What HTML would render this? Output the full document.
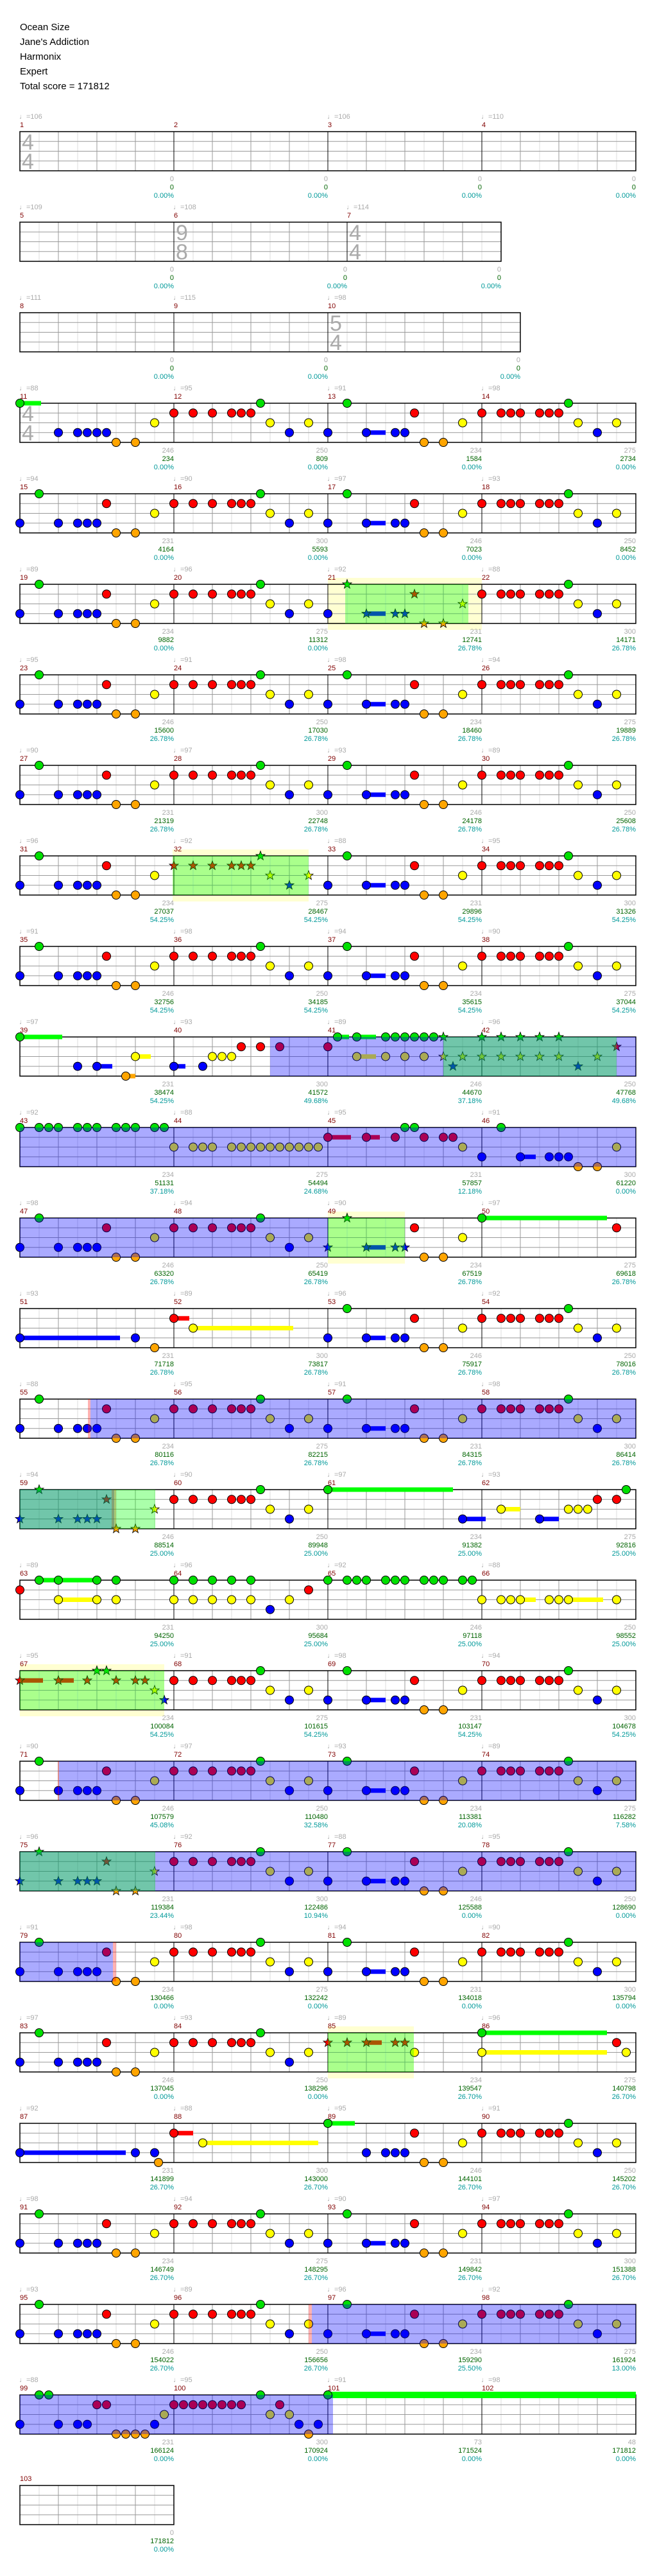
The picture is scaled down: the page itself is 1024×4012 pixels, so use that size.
<!DOCTYPE html>
<html><head><meta charset="utf-8"><style>
html,body{margin:0;padding:0;background:#fff;width:1024px;height:4012px;overflow:hidden}
svg{position:absolute;left:0;top:0}
.t{position:absolute;left:31px;font:15px "Liberation Sans",sans-serif;color:#000;line-height:23px}
</style></head><body>
<div class="t" style="top:31px">Ocean Size<br>Jane's Addiction<br>Harmonix<br>Expert<br>Total score = 171812</div>
<svg id="s" width="1024" height="4012" xmlns="http://www.w3.org/2000/svg" font-family="Liberation Sans, sans-serif"></svg>
<script>
var S=document.getElementById('s'),NS='http://www.w3.org/2000/svg';
function el(t,a,txt){var e=document.createElementNS(NS,t);for(var k in a)e.setAttribute(k,a[k]);if(txt!==undefined)e.textContent=txt;S.appendChild(e);return e;}
var L=31,BW=60,H=61,LY=[0,15.25,30.5,45.75,61];
var NC=['#00e000','#ff0000','#ffff00','#0000ff','#ffa500'];
var rows=[];
rows.push({ms:[[1,4,[4,4]],[2,4],[3,4],[4,4]],tp:[[0,106],[2,106],[3,110]]});
rows.push({ms:[[5,4],[6,4.5,[9,8]],[7,4,[4,4]]],tp:[[0,109],[1,108],[2,114]]});
rows.push({ms:[[8,4],[9,4],[10,5,[5,4]]],tp:[[0,111],[1,115],[2,98]]});
for(var r=3;r<=25;r++){var n=11+4*(r-3);var ms=[];for(var j=0;j<4;j++)ms.push([n+j,4]);if(r==3)ms[0][2]=[4,4];rows.push({ms:ms});}
rows.push({ms:[[103,4]],tp:[]});
var OV={5:[['y',511,751],['g',538,730]],8:[['y',269,481],['g',269,481]],10:[['b',421,991],['g',691,961]],11:[['b',31,991]],
12:[['y',511,631],['b',31,512],['g',511,631]],14:[['p',137,141],['b',141,991]],15:[['b',31,178],['p',174,181],['g',31,242]],
17:[['y',31,256],['g',31,256]],18:[['p',90,92],['b',92,991]],19:[['b',31,991],['g',31,242]],20:[['b',31,176],['p',176,181]],
21:[['y',511,645],['g',511,645]],24:[['p',481,486],['b',486,991]],25:[['b',31,519]]};
var A=[[0,0,0.55],[1,3],[1.5,3],[1.75,3],[2,3],[2.25,3],[2.5,4],[3,4],[3.5,2]];
var B=[[0,1],[0.5,1],[0.75,1],[1,1],[1.5,1],[1.75,1],[2,1],[2.25,0],[2.5,2],[3,3],[3.5,2]];
var C=[[0,3],[0.5,0],[1,3],[1.5,3],[1.75,3],[2,3],[2.25,1],[2.5,4],[3,4],[3.5,2]];
var A2=[[0,3],[0.5,0],[1,3,0.5],[1.75,3],[2,3],[2.25,1],[2.5,4],[3,4],[3.5,2]];
var D=[[0,1],[0.5,1],[1,1],[1.5,1],[1.75,1],[2,1],[2.25,0],[2.5,2],[3,3],[3.5,2]];
var SP={11:A,39:[[0,0,1.1],[1.5,3],[2,3,0.4],[2.75,4,0.25],[3,2,0.4]],
40:[[0,3,0.3],[0.75,3],[1,2],[1.25,2],[1.5,2],[1.75,1],[2.25,1],[2.75,1]],
41:[[0,1],[0.25,0,0.3],[0.75,0,0.5],[0.75,2,0.5],[1.5,0],[1.75,0],[2,0],[2.25,0],[2.5,0],[2.75,0],[3,0],[1.5,2],[2,2],[2.5,2],[3,2],[3.5,2],[3.25,3]],
42:[[0,0],[0.5,0],[1,0],[1.5,0],[2,0],[0,2],[0.5,2],[1,2],[1.5,2],[2,2],[3,2],[2.5,3],[3.5,1]],
43:[[0,0],[0.5,0],[0.75,0],[1,0],[1.5,0],[1.75,0],[2,0],[2.5,0],[2.75,0],[3,0],[3.5,0],[3.75,0]],
44:[[0,2],[0.5,2],[0.75,2],[1,2],[1.5,2],[1.75,2],[2,2],[2.25,2],[2.5,2],[2.75,2],[3,2],[3.25,2],[3.5,2],[3.75,2]],
45:[[0,1,0.6],[1,1,0.35],[1.75,1],[2.5,1],[3,1],[3.25,1],[2,0],[2.25,0],[3.5,2]],
46:[[0,3],[0.5,0],[1,3,0.4],[1.75,3],[2,3],[2.25,3],[2.5,4],[3,4],[3.5,2]],
50:[[0,0,3.25],[3.5,1]],51:[[0,3,2.6],[3,3],[3.5,4]],52:[[0,1,0.4],[0.5,2,2.6]],
61:[[0,0,3.25],[3.5,3,0.6]],62:[[0.5,2,0.5],[1.5,3,0.5],[2.25,2],[2.5,2],[2.75,2],[3,1],[3.5,1],[3.75,0]],
63:[[0,1],[0.5,0,0.5],[1,0,0.9],[1,2,0.9],[2,0],[2,2],[2.5,0],[2.5,2]],
64:[[0,0],[0.5,0],[1,0],[1.5,0],[2,0],[0,2],[0.5,2],[1,2],[1.5,2],[2,2],[2.5,3],[3,2],[3.5,1]],
65:[[0,0],[0.5,0],[0.75,0],[1,0],[1.5,0],[1.75,0],[2,0],[2.5,0],[2.75,0],[3,0],[3.5,0],[3.75,0]],
66:[[0,2],[0.5,2],[0.75,2],[1,2,0.4],[1.75,2],[2,2],[2.25,2,0.9],[3.5,2]],
67:[[0,1,0.6],[1,1,0.4],[1.75,1],[2.5,1],[3,1],[3.25,1],[2,0],[2.25,0],[3.5,2],[3.75,3]],
85:[[0,1],[0.5,1],[1,1,0.4],[1.75,1],[2,1],[2.25,2]],86:[[0,0,3.25],[0,2,3.25],[3.5,1],[3.75,2]],
87:[[0,3,2.75],[3,3],[3.5,3],[3.6,4]],88:[[0,1,0.5],[0.75,2,3]],89:[[0,0,0.7],[1,3],[1.5,3],[1.75,3],[2,3],[2.25,1],[2.5,4],[3,4],[3.5,2]],
99:[[0,3],[0.5,0],[0.75,0],[1,3],[1.5,3],[1.75,3],[2,1],[2.25,1],[2.5,4],[2.75,4],[3,4],[3.25,4],[3.5,3],[3.75,2]],
100:[[0,1],[0.25,1],[0.5,1],[0.75,1],[1,1],[1.25,1],[1.5,1],[1.75,1],[2.25,0],[2.5,2],[2.75,1],[3,2],[3.25,3],[3.5,4],[3.75,3]],
101:[[0,0,8]],102:[]};
function pat(n){if(SP[n])return SP[n];if(n>102)return[];if(n%2==0)return(n%4==0)?D:B;return(n%4==1)?A2:C;}
var KS=[[10,0],[11,234],[12,809],[13,1584],[14,2734],[39,38474],[42,47768],[46,61220],[59,88514],[66,98552],[70,104678],[74,116282],[78,128690],[82,135794],[86,140798],[90,145202],[94,151388],[98,161924],[99,166124],[100,170924],[101,171524],[102,171812],[103,171812]];
function score(n){if(n<=10)return 0;for(var i=1;i<KS.length;i++){if(n<=KS[i][0]){var a=KS[i-1],b=KS[i];return Math.round(a[1]+(b[1]-a[1])*(n-a[0])/(b[0]-a[0]));}}return 171812;}
var PC={39:'54.25%',40:'49.68%',41:'37.18%',42:'49.68%',43:'37.18%',44:'24.68%',45:'12.18%',46:'0.00%',71:'45.08%',72:'32.58%',73:'20.08%',74:'7.58%',75:'23.44%',76:'10.94%',97:'25.50%',98:'13.00%'};
function pct(n){if(PC[n])return PC[n];if(n<=20)return'0.00%';if(n<=30)return'26.78%';if(n<=38)return'54.25%';if(n<=58)return'26.78%';if(n<=66)return'25.00%';if(n<=70)return'54.25%';if(n<=84)return'0.00%';if(n<=96)return'26.70%';return'0.00%';}
function star(x,y,f){var p=[];for(var i=0;i<10;i++){var a=-Math.PI/2+i*Math.PI/5,rr=i%2?3:7.5;p.push((x+rr*Math.cos(a)).toFixed(1)+','+(y+rr*Math.sin(a)).toFixed(1));}el('polygon',{points:p.join(' '),fill:f,stroke:'#000','stroke-width':0.8});}
var OC={b:'rgba(0,0,255,0.333)',g:'rgba(0,255,0,0.333)',p:'rgba(255,0,0,0.3)'};
rows.forEach(function(row,ri){
 var top=205+ri*141,x=L,mx=[];
 row.ms.forEach(function(m){mx.push(x);x+=m[1]*BW;});
 var R=x,ov=OV[ri]||[];
 ov.forEach(function(o){if(o[0]=='y')el('rect',{x:o[1],y:top-10,width:o[2]-o[1],height:H+20,fill:'#ffffd2'});});
 row.ms.forEach(function(m,i){for(var h=0.5;h<m[1];h+=0.5){var gx=mx[i]+h*BW;el('line',{x1:gx,y1:top,x2:gx,y2:top+H,stroke:(h%1==0)?'#999':'#ddd','stroke-width':1});}});
 for(var k=1;k<4;k++)el('line',{x1:L,y1:top+LY[k],x2:R,y2:top+LY[k],stroke:'#999','stroke-width':1});
 row.ms.forEach(function(m,i){if(i>0)el('line',{x1:mx[i],y1:top,x2:mx[i],y2:top+H,stroke:'#000','stroke-width':1});
  if(m[2]){el('text',{x:mx[i]+3,y:top+28,'font-size':34,fill:'#aaa'},String(m[2][0]));el('text',{x:mx[i]+3,y:top+58,'font-size':34,fill:'#aaa'},String(m[2][1]));}});
 el('rect',{x:L,y:top,width:R-L,height:H,fill:'none',stroke:'#000','stroke-width':1.5});
 var greens=ov.filter(function(o){return o[0]=='g';});
 row.ms.forEach(function(m,i){var n=m[0];if(n<11)return;var p=pat(n);
  p.forEach(function(q){if(q[2]){var sx=mx[i]+q[0]*BW,ex=Math.min(sx+q[2]*BW,R);var th=(n==101)?10:7;el('rect',{x:sx,y:top+LY[q[1]]-th/2,width:ex-sx,height:th,fill:NC[q[1]]=='#00e000'?'#00ff00':NC[q[1]]});}});
  p.forEach(function(q){var nx=mx[i]+q[0]*BW,ny=top+LY[q[1]];var inG=greens.some(function(g){return nx>=g[1]-2&&nx<=g[2];});
   if(inG)star(nx,ny,NC[q[1]]);else el('circle',{cx:nx,cy:ny,r:6.5,fill:NC[q[1]],stroke:'#000','stroke-width':1});});
 });
 ov.forEach(function(o){if(o[0]!='y')el('rect',{x:o[1],y:top,width:o[2]-o[1],height:H,fill:OC[o[0]]});});
 row.ms.forEach(function(m,i){var n=m[0];
  el('text',{x:mx[i],y:top-7,'font-size':11,fill:'#800000'},String(n));
  var ex=mx[i]+m[1]*BW,sc=score(n);
  var g=(n<=10)?'0':String(n>=101?(n==101?73:48):(n==103?0:[250,234,275,231,300,246][n%6]));
  if(n==103)g='0';
  el('text',{x:ex,y:top+H+16,'font-size':11,fill:'#aaa','text-anchor':'end'},g);
  el('text',{x:ex,y:top+H+29,'font-size':11,fill:'#006400','text-anchor':'end'},String(sc));
  el('text',{x:ex,y:top+H+42,'font-size':11,fill:'#009999','text-anchor':'end'},pct(n));
 });
 var tp=row.tp;if(!tp){tp=[];row.ms.forEach(function(m,i){tp.push([i,88+((m[0]*7)%11)]);});}
 tp.forEach(function(t){if(ri==26)return;el('text',{x:mx[t[0]]-1,y:top-20,'font-size':11,fill:'#aaa'},'\u2669='+t[1]);});
});
</script>
</body></html>
